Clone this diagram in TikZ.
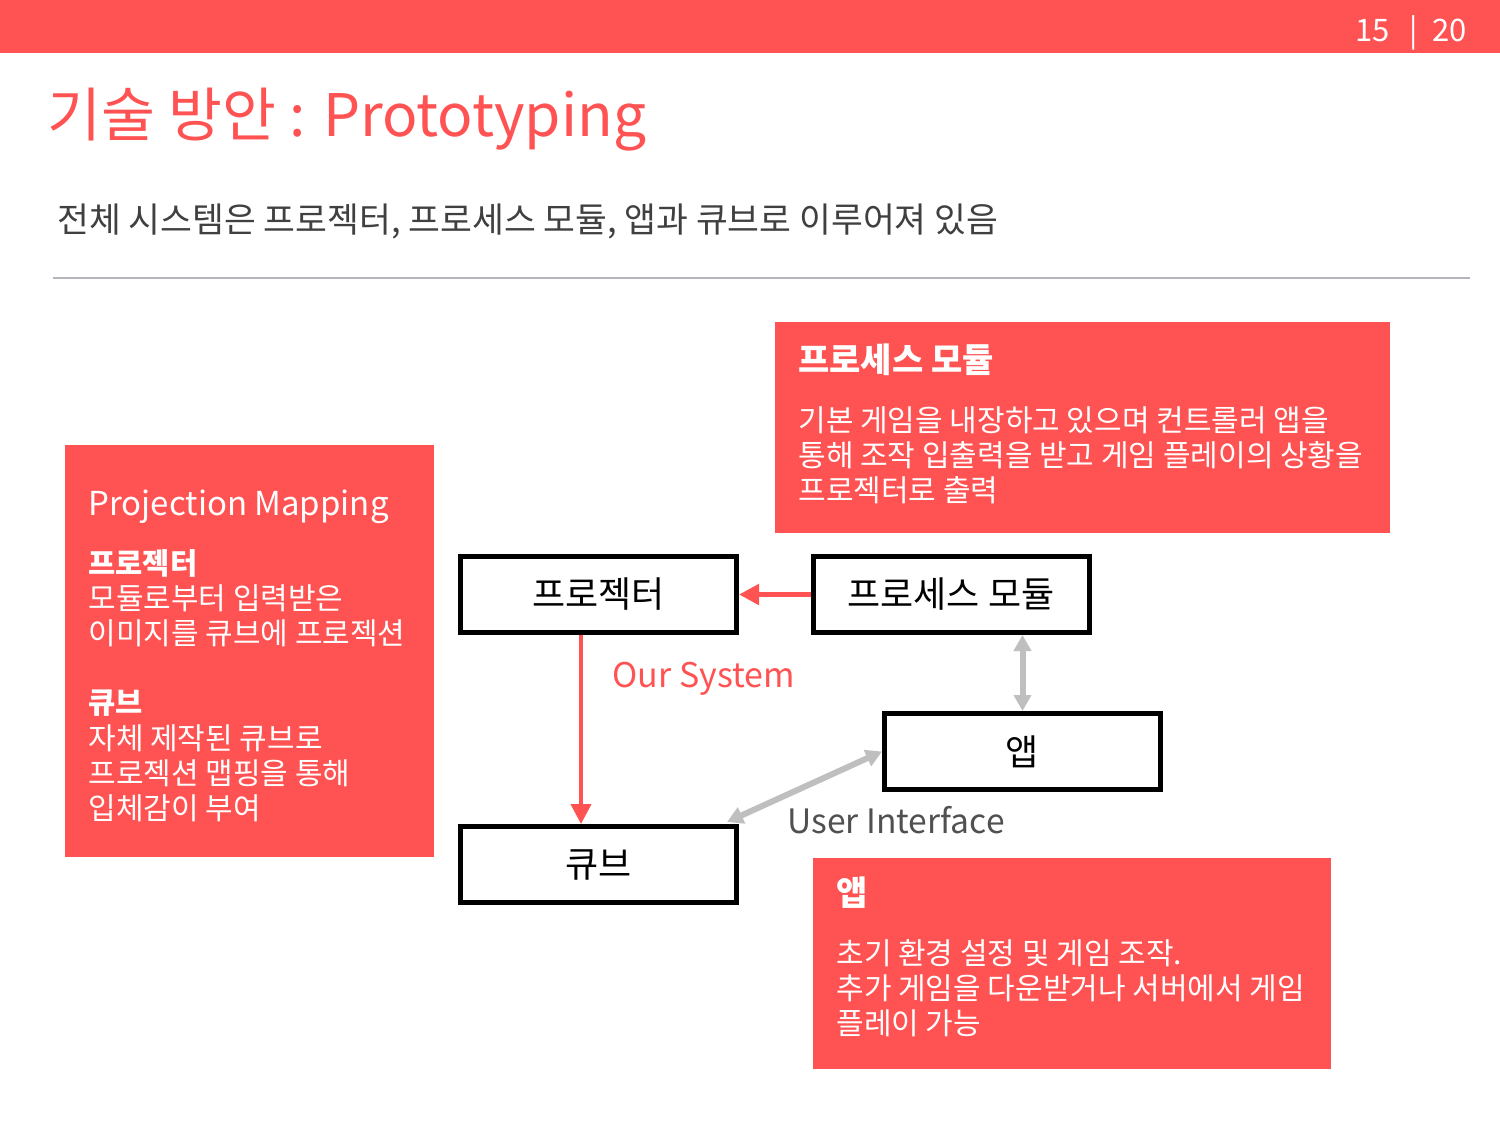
\documentclass[tikz,border=0pt]{standalone}
\usepackage{fontspec}
\setmainfont{Noto Sans CJK KR}
\usetikzlibrary{arrows.meta}
\definecolor{brand}{RGB}{255,82,82}
\definecolor{arrowgray}{RGB}{191,191,191}
\definecolor{rulegray}{RGB}{180,182,187}
\definecolor{subtext}{RGB}{64,64,64}
\definecolor{uitext}{RGB}{80,80,80}
\tikzset{
  redbox/.style={fill=brand, draw=none, inner sep=0pt},
  blackbox/.style={draw=black, line width=2.5pt, fill=white, inner sep=0pt,
    minimum width=138pt, minimum height=38pt, font=\fontsize{18}{21}\selectfont},
  boxhead/.style={anchor=base west, inner sep=0pt, text=white, font=\fontsize{17}{20}\bfseries\selectfont},
  boxsub/.style={anchor=base west, inner sep=0pt, text=white, font=\fontsize{14.8}{18}\bfseries\selectfont},
  boxline/.style={anchor=base west, inner sep=0pt, text=white, font=\fontsize{15}{18}\selectfont},
  redarrow/.style={draw=brand, -{Triangle[length=10pt,width=10pt]}},
  grayarrow/.style={draw=arrowgray, line width=3pt, {Triangle[length=8pt,width=8.5pt]}-{Triangle[length=8pt,width=8.5pt]}},
}
\begin{document}
\begin{tikzpicture}[x=0.5pt,y=-0.5pt]
\useasboundingbox (0,0) rectangle (1500,1125);
\fill[white] (0,0) rectangle (1500,1125);

% top bar and page number
\node[fill=brand, inner sep=0pt, minimum width=750pt, minimum height=26.5pt, anchor=north west] (topbar) at (0,0) {};
\node[anchor=base east, inner sep=0pt, text=white, font=\fontsize{15.5}{18}\selectfont] (page) at (1467,41) {15\hspace{10pt}|\hspace{7pt}20};

% title and subtitle
\node[anchor=base west, inner sep=0pt, text=brand, font=\fontsize{29.3}{34}\selectfont] (title) at (47,136) {기술 방안 : Prototyping};
\node[anchor=base west, inner sep=0pt, text=subtext, font=\fontsize{17.3}{20}\selectfont] (subtitle) at (57,232) {전체 시스템은 프로젝터, 프로세스 모듈, 앱과 큐브로 이루어져 있음};
\coordinate (ruleL) at (53,278);
\coordinate (ruleR) at (1470,278);
\draw[rulegray, line width=1pt] (ruleL) -- (ruleR);

% red information boxes
\node[redbox, minimum width=307.5pt, minimum height=105.5pt] (procbox) at (1082.5,427.5) {};
\node[boxhead] (procHead) at (798,372) {프로세스 모듈};
\node[boxline] (procL1) at (798,431) {기본 게임을 내장하고 있으며 컨트롤러 앱을};
\node[boxline] (procL2) at (798,466) {통해 조작 입출력을 받고 게임 플레이의 상황을};
\node[boxline] (procL3) at (798,501) {프로젝터로 출력};

\node[redbox, minimum width=184.5pt, minimum height=206pt] (pmbox) at (249.5,651) {};
\node[anchor=base west, inner sep=0pt, text=white, font=\fontsize{16.5}{19}\selectfont] (pmHead) at (88,515) {Projection Mapping};
\node[boxsub] (pmSub1) at (88,574) {프로젝터};
\node[boxline] (pmL1) at (88,609) {모듈로부터 입력받은};
\node[boxline] (pmL2) at (88,644) {이미지를 큐브에 프로젝션};
\node[boxsub] (pmSub2) at (88,713) {큐브};
\node[boxline] (pmL3) at (88,749) {자체 제작된 큐브로};
\node[boxline] (pmL4) at (88,784) {프로젝션 맵핑을 통해};
\node[boxline] (pmL5) at (88,819) {입체감이 부여};

\node[redbox, minimum width=259pt, minimum height=105.5pt] (appbox) at (1072,963.5) {};
\node[boxhead] (appHead) at (836,905) {앱};
\node[boxline] (appL1) at (836,964) {초기 환경 설정 및 게임 조작.};
\node[boxline] (appL2) at (836,999) {추가 게임을 다운받거나 서버에서 게임};
\node[boxline] (appL3) at (836,1034) {플레이 가능};

% diagram boxes
\node[blackbox] (proj) at (598.5,594.5) {프로젝터};
\node[blackbox] (proc) at (951,594.5) {프로세스 모듈};
\node[blackbox] (app) at (1022.5,751.5) {앱};
\node[blackbox] (cube) at (598.5,864.5) {큐브};

% connectors
\draw[redarrow, line width=2.5pt] (proc.west) -- (proj.east);
\draw[redarrow, line width=2pt] ([xshift=-8.75pt]proj.south) -- ([xshift=-8.75pt]cube.north);
\draw[grayarrow] (app.north |- proc.south) -- (app.north);
\draw[grayarrow] (app.west) -- ([xshift=-6pt,yshift=1pt]cube.north east);

% labels
\node[anchor=base west, inner sep=0pt, text=brand, font=\fontsize{17}{20}\selectfont] (ourSystem) at (612,687) {Our System};
\node[anchor=base west, inner sep=0pt, text=uitext, font=\fontsize{16.8}{20}\selectfont] (userIf) at (787,833) {User Interface};
\end{tikzpicture}
\end{document}
